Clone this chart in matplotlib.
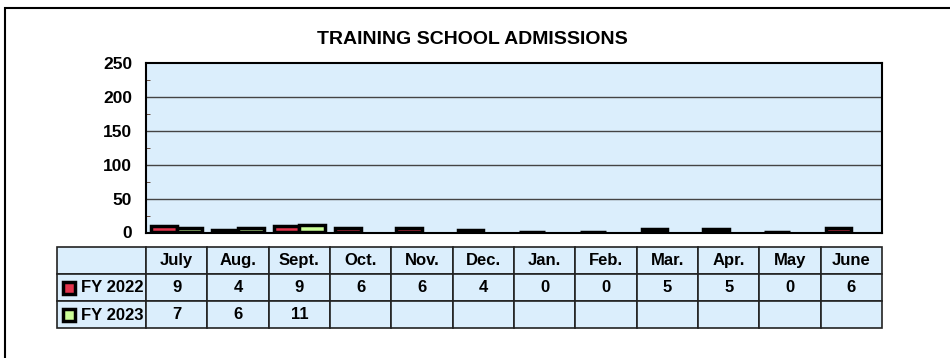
import matplotlib
matplotlib.use('Agg')
import matplotlib.pyplot as plt
from matplotlib.patches import Rectangle
from matplotlib.lines import Line2D
import numpy as np

plt.rcParams['font.family'] = ['Liberation Sans', 'DejaVu Sans']
plt.rcParams['font.weight'] = 'bold'

# data
months = ['July', 'Aug.', 'Sept.', 'Oct.', 'Nov.', 'Dec.', 'Jan.', 'Feb.', 'Mar.', 'Apr.', 'May', 'June']
fy2022 = [9, 4, 9, 6, 6, 4, 0, 0, 5, 5, 0, 6]
fy2023 = [7, 6, 11]
series_names = ['FY 2022', 'FY 2023']
series_colors = ['#e3344c', '#ccff99']
y_ticks = [0, 50, 100, 150, 200, 250]

BG = '#dbeefc'
W, H = 950, 358


def px_rect(x0, y0, x1, y1):
    """pixel box (top-left origin) -> figure fraction rect"""
    return [x0 / W, 1 - y1 / H, (x1 - x0) / W, (y1 - y0) / H]


fig = plt.figure(figsize=(W / 100, H / 100), dpi=100)

# outer frame
fig.patches.append(Rectangle((5 / W, -0.1), 1.2, 1.1 - 8 / H, transform=fig.transFigure,
                             fill=False, edgecolor='black', linewidth=1.5, clip_on=False))

fig.text(472 / W, 1 - 40 / H, 'TRAINING SCHOOL ADMISSIONS', ha='center', va='center',
         fontsize=14, fontweight='bold')

# chart
ax = fig.add_axes(px_rect(146, 63, 882, 233))
ax.set_facecolor(BG)
x = np.arange(len(months))
bw = 0.42
ax.bar(x[:len(fy2022)] - bw / 2, fy2022, bw, color=series_colors[0], edgecolor='black', linewidth=2.5)
ax.bar(x[:len(fy2023)] + bw / 2, fy2023, bw, color=series_colors[1], edgecolor='black', linewidth=2.5)
ax.set_xlim(-0.5, len(months) - 0.5)
ax.set_ylim(-0.8, 250)
ax.set_yticks(y_ticks)
ax.set_yticklabels([str(t) for t in y_ticks], fontsize=12.5, fontweight='bold')
ax.set_yticks(np.arange(25, 250, 50), minor=True)
ax.tick_params(axis='y', which='major', length=0, pad=10)
ax.tick_params(axis='y', which='minor', length=3, direction='in', color='#553322')
ax.set_xticks([])
for t in y_ticks[1:-1]:
    ax.axhline(t, color='#444444', linewidth=1, zorder=0.5)
for s in ax.spines.values():
    s.set_linewidth(1.5)
    s.set_color('black')

# data table
tax = fig.add_axes(px_rect(57, 247, 882, 328))
tax.set_axis_off()
cells = [[''] + months,
         [''] + [str(v) for v in fy2022],
         [''] + [str(v) for v in fy2023] + [''] * (len(months) - len(fy2023))]
col_w = [89] + [736 / len(months)] * len(months)
tbl = tax.table(cellText=cells, colWidths=[c / sum(col_w) for c in col_w],
                bbox=[0, 0, 1, 1], cellLoc='center')
tbl.auto_set_font_size(False)
for (r, c), cell in tbl.get_celld().items():
    cell.set_facecolor(BG)
    cell.set_edgecolor('#222222')
    cell.set_linewidth(1.2)
    cell.get_text().set_fontsize(12)
    cell.get_text().set_fontweight('bold')

# row labels with legend keys
for name, yy, col in zip(series_names, [288, 315], series_colors):
    fig.add_artist(Line2D([69 / W], [1 - yy / H], marker='s', markersize=9,
                          markerfacecolor=col, markeredgecolor='black', markeredgewidth=2.5,
                          linestyle='none', transform=fig.transFigure))
    fig.text(81 / W, 1 - yy / H, name, ha='left', va='center', fontsize=12, fontweight='bold')

fig.savefig('out.png', dpi=100)
